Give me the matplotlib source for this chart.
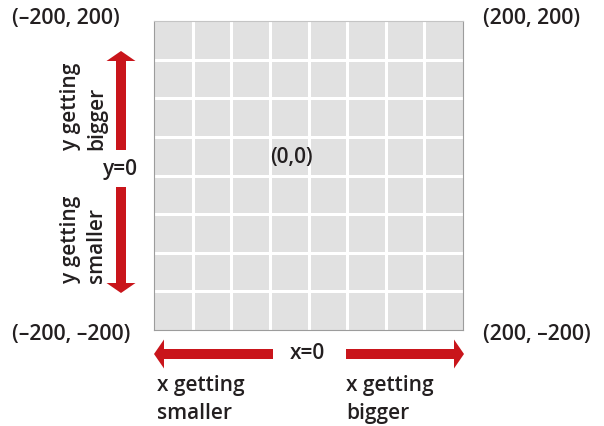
import numpy as np
import matplotlib
matplotlib.use('Agg')
import matplotlib.pyplot as plt

# grid in "p5 style" coordinates, origin at the centre
lims = [-200, 200]
grid_ticks = [-150, -100, -50, 0, 50, 100, 150]

corner_labels = ['(\u2013200, 200)', '(200, 200)', '(\u2013200, \u2013200)', '(200, \u2013200)']
corner_xy = [(12, 24), (483, 24), (12, 340), (483, 340)]

# arrows in figure pixels: start x, start y, dx, dy
arrows = [(121, 150, 0, -99), (121, 187, 0, 106), (273, 354, -119, 0), (346, 354, 118, 0)]

red = '#c9151b'
txt = '#231f20'
plt.rcParams['font.family'] = ['Open Sans', 'DejaVu Sans']

fig = plt.figure(figsize=(6.04, 4.26), dpi=100)

ax = fig.add_axes([154/604, 96/426, 309/604, 309/426])
ax.set_facecolor('#e1e1e1')
ax.set_xlim(lims)
ax.set_ylim(lims)
for t in grid_ticks:
    ax.axvline(t, color='white', lw=2.2)
    ax.axhline(t, color='white', lw=2.2)
ax.set_xticks([])
ax.set_yticks([])
for s in ax.spines.values():
    s.set_color('#9c9c9c')
    s.set_linewidth(0.8)
ax.spines['top'].set_color('#c4c4c4')

# overlay in pixel coordinates for labels and arrows
ov = fig.add_axes([0, 0, 1, 1])
ov.set_xlim(0, 604)
ov.set_ylim(426, 0)
ov.axis('off')
ov.patch.set_alpha(0)

fs = 15
kw = dict(fontsize=fs, fontweight='semibold', color=txt)

for lab, (x, y) in zip(corner_labels, corner_xy):
    ov.text(x, y, lab, ha='left', va='baseline', fontsize=15.3, fontweight='semibold', color=txt)

ov.text(270, 163, '(0,0)', ha='left', va='baseline', **kw)
ov.text(103, 175, 'y=0', ha='left', va='baseline', **kw)
ov.text(290, 359, 'x=0', ha='left', va='baseline', **kw)

for x, y, dx, dy in arrows:
    ov.arrow(x, y, dx, dy, width=10, head_width=29, head_length=10,
             length_includes_head=True, color=red, lw=0)

# x labels, two lines each
ov.text(157, 391, 'x getting', ha='left', va='baseline', **kw)
ov.text(157, 419, 'smaller', ha='left', va='baseline', **kw)
ov.text(346, 391, 'x getting', ha='left', va='baseline', **kw)
ov.text(346, 419, 'bigger', ha='left', va='baseline', **kw)

# y labels, rotated
ov.text(76, 150, 'y getting', rotation=90, rotation_mode='anchor', ha='left', va='baseline', **kw)
ov.text(102, 150, 'bigger', rotation=90, rotation_mode='anchor', ha='left', va='baseline', **kw)
ov.text(76, 283, 'y getting', rotation=90, rotation_mode='anchor', ha='left', va='baseline', **kw)
ov.text(102, 283, 'smaller', rotation=90, rotation_mode='anchor', ha='left', va='baseline', **kw)

fig.savefig('out.png', dpi=100)
